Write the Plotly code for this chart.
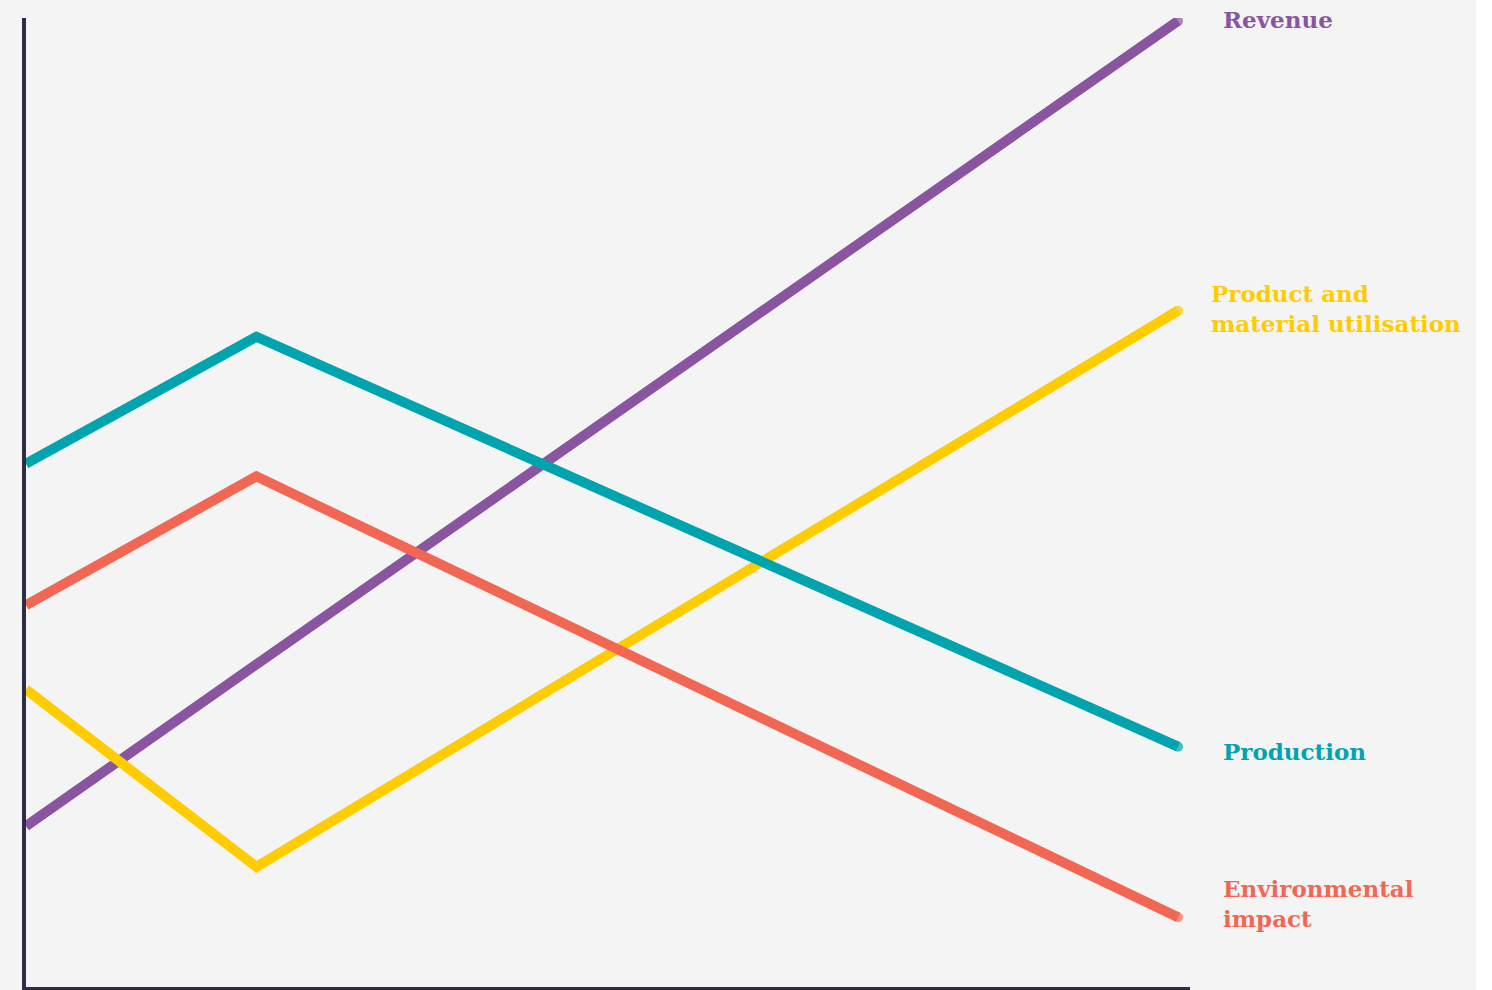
import plotly.graph_objects as go

# Data (x positions of the three time points; values on a 0-100 scale)
x_points = [0, 1, 5]
revenue = [16.6, 33.3, 99.7]
production = [54.0, 67.1, 24.8]
environmental = [39.4, 52.7, 7.2]
utilisation = [30.7, 12.4, 69.8]

series_names = ["Revenue", "Product and<br>material utilisation", "Production", "Environmental<br>impact"]
series_values = [revenue, utilisation, production, environmental]
colors = ["#8a55a0", "#ffcc00", "#00a4ae", "#f26753"]

W, H = 1476, 990
ML, MR, MT, MB = 26, W - 1190, 18, 3
PW, PH = W - ML - MR, H - MT - MB

fig = go.Figure()
for name, vals, col in zip(series_names, series_values, colors):
    fig.add_trace(go.Scatter(
        x=x_points, y=vals, mode="lines+markers",
        line=dict(color=col, width=10),
        marker=dict(size=[0, 0, 10], color=col, line=dict(width=0)),
        hoverinfo="skip", showlegend=False,
    ))

# label positions (pixel -> paper)
label_px = [(1221, 20), (1209, 308), (1221, 752), (1221, 903)]
for (px, py), name, col in zip(label_px, series_names, colors):
    fig.add_annotation(
        x=(px - ML) / PW, y=(H - MB - py) / PH, xref="paper", yref="paper",
        text="<b>" + name + "</b>", showarrow=False, xanchor="left", yanchor="middle", align="left",
        font=dict(family="DejaVu Serif", size=23, color=col),
    )

fig.update_xaxes(range=[0, 5.052], showgrid=False, zeroline=False, showticklabels=False,
                 ticks="", showline=True, linecolor="#2d2d44", linewidth=4)
fig.update_yaxes(range=[0, 100], showgrid=False, zeroline=False, showticklabels=False,
                 ticks="", showline=True, linecolor="#2d2d44", linewidth=4)

fig.update_layout(
    width=W, height=H, autosize=False,
    margin=dict(l=ML, r=MR, t=MT, b=MB, pad=0),
    paper_bgcolor="#f4f4f4", plot_bgcolor="#f4f4f4",
)

fig.write_html("out.html")
